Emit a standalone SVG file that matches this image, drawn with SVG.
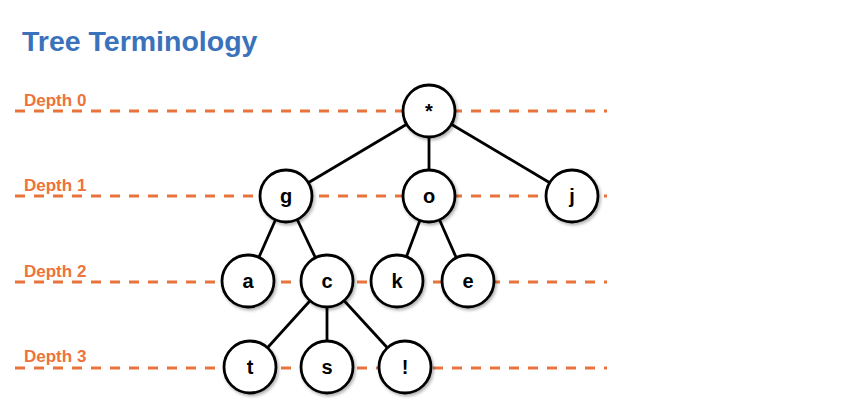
<svg xmlns="http://www.w3.org/2000/svg" width="849" height="420" viewBox="0 0 849 420">
<defs>
<filter id="sh" x="-30%" y="-30%" width="160%" height="160%">
<feDropShadow dx="1.5" dy="2" stdDeviation="1.5" flood-color="#000" flood-opacity="0.3"/>
</filter>
</defs>
<style>
.title{font-family:"Liberation Sans",Arial,sans-serif;font-weight:bold;font-size:28.5px;fill:#3a72bb}
.depth{font-family:"Liberation Sans",Arial,sans-serif;font-weight:bold;font-size:17px;fill:#ec7339}
.dash{stroke:#e8743c;stroke-width:3;stroke-dasharray:10 9;fill:none}
.edge{stroke:#000;stroke-width:2.8;fill:none}
.node circle{fill:#fff;stroke:#000;stroke-width:2.8;filter:url(#sh)}
.node text{font-family:"Liberation Sans",Arial,sans-serif;font-weight:bold;font-size:20px;fill:#000;text-anchor:middle}
</style>
<rect width="849" height="420" fill="#fff"/>
<text class="title" x="22" y="51">Tree Terminology</text>
<g id="depths">
<text class="depth" x="24" y="106">Depth 0</text>
<line class="dash" x1="15" y1="111" x2="607" y2="111"/>
<text class="depth" x="24" y="191">Depth 1</text>
<line class="dash" x1="15" y1="196" x2="607" y2="196"/>
<text class="depth" x="24" y="277">Depth 2</text>
<line class="dash" x1="15" y1="282" x2="607" y2="282"/>
<text class="depth" x="24" y="362">Depth 3</text>
<line class="dash" x1="15" y1="368" x2="607" y2="368"/>
</g>
<g id="connectors">
<line class="edge" x1="429" y1="111" x2="286" y2="196"/>
<line class="edge" x1="429" y1="111" x2="429" y2="196"/>
<line class="edge" x1="429" y1="111" x2="572" y2="196"/>
<line class="edge" x1="286" y1="196" x2="248" y2="282"/>
<line class="edge" x1="286" y1="196" x2="327" y2="282"/>
<line class="edge" x1="429" y1="196" x2="397" y2="282"/>
<line class="edge" x1="429" y1="196" x2="467" y2="282"/>
<line class="edge" x1="327" y1="282" x2="250" y2="367"/>
<line class="edge" x1="327" y1="282" x2="327" y2="367"/>
<line class="edge" x1="327" y1="282" x2="405" y2="367"/>
</g>
<g id="n-star" class="node"><circle cx="429" cy="111" r="26"/><text x="429" y="118">*</text></g>
<g id="n-g" class="node"><circle cx="286" cy="196" r="26"/><text x="286" y="203">g</text></g>
<g id="n-o" class="node"><circle cx="429" cy="196" r="26"/><text x="429" y="203">o</text></g>
<g id="n-j" class="node"><circle cx="572" cy="196" r="26"/><text x="572" y="203">j</text></g>
<g id="n-a" class="node"><circle cx="248" cy="281" r="26"/><text x="248" y="288">a</text></g>
<g id="n-c" class="node"><circle cx="327" cy="281" r="26"/><text x="327" y="288">c</text></g>
<g id="n-k" class="node"><circle cx="397" cy="281" r="26"/><text x="397" y="288">k</text></g>
<g id="n-e" class="node"><circle cx="468" cy="281" r="26"/><text x="468" y="288">e</text></g>
<g id="n-t" class="node"><circle cx="250" cy="367" r="26"/><text x="250" y="374">t</text></g>
<g id="n-s" class="node"><circle cx="327" cy="367" r="26"/><text x="327" y="374">s</text></g>
<g id="n-bang" class="node"><circle cx="405" cy="367" r="26"/><text x="405" y="374">!</text></g>
</svg>
